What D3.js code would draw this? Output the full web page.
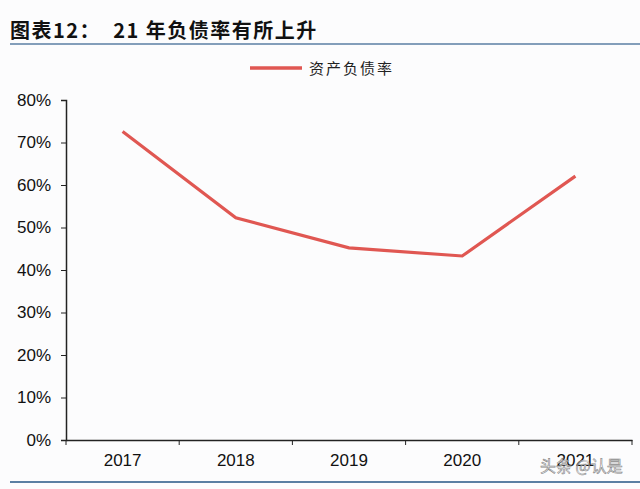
<!DOCTYPE html>
<html><head><meta charset="utf-8">
<script src="https://cdn.jsdelivr.net/npm/d3@7"></script>
<style>body{margin:0;background:#fcfcfd;}svg{display:block;}</style>
</head><body>
<script>
const years = ["2017","2018","2019","2020","2021"];
const debtRatio = [72.6, 52.3, 45.2, 43.3, 62.1];
const yTicks = [0,10,20,30,40,50,60,70,80];
const seriesName = "资产负债率";
const title = "图表12：  21 年负债率有所上升";

const W=640,H=489;
const svg=d3.select("body").append("svg").attr("width",W).attr("height",H);
svg.append("rect").attr("width",W).attr("height",H).attr("fill","#fcfcfd");

svg.append("text").attr("x",10).attr("y",38).text(title)
  .attr("font-family","'Noto Sans CJK SC', sans-serif").attr("font-weight","bold")
  .attr("font-size",20).attr("letter-spacing",1.5).attr("fill","#111").style("white-space","pre");
svg.append("line").attr("x1",10).attr("x2",640).attr("y1",44).attr("y2",44).attr("stroke","#5b7fa3").attr("stroke-width",1.5);
svg.append("line").attr("x1",10).attr("x2",640).attr("y1",482).attr("y2",482).attr("stroke","#5b7fa3").attr("stroke-width",2);

const x=d3.scaleBand().domain(years).range([66,632]);
const y=d3.scaleLinear().domain([0,80]).range([440,100]);

const ya=svg.append("g").attr("transform","translate(66,0)")
  .call(d3.axisLeft(y).tickValues(yTicks).tickFormat(d=>d+"%").tickSize(5).tickPadding(10));
ya.select(".domain").attr("stroke","#222").attr("stroke-width",1.5);
ya.selectAll(".tick line").attr("stroke","#222");
ya.selectAll("text").attr("font-family","'Liberation Sans', Arial, sans-serif").attr("font-size",17).attr("fill","#111");

const xa=svg.append("g").attr("transform","translate(0,440)")
  .call(d3.axisBottom(x).tickSize(0).tickPadding(14));
xa.select(".domain").attr("stroke","#222").attr("stroke-width",1.5);
xa.selectAll("text").attr("font-family","'Liberation Sans', Arial, sans-serif").attr("font-size",17).attr("fill","#111");
const bounds = years.map(d=>x(d)).concat([x.range()[1]]);
svg.append("g").selectAll("line").data(bounds).join("line")
  .attr("x1",d=>d).attr("x2",d=>d).attr("y1",440).attr("y2",445).attr("stroke","#222");

const line=d3.line().x((d,i)=>x(years[i])+x.bandwidth()/2).y(d=>y(d));
svg.append("path").datum(debtRatio).attr("d",line).attr("fill","none")
  .attr("stroke","#e05752").attr("stroke-width",3.2).attr("stroke-linejoin","miter");

svg.append("line").attr("x1",250).attr("x2",302).attr("y1",68).attr("y2",68).attr("stroke","#e05752").attr("stroke-width",3.5);
svg.append("text").attr("x",309).attr("y",74).text(seriesName)
  .attr("font-family","'Noto Sans CJK SC', sans-serif").attr("font-size",15).attr("letter-spacing",2).attr("fill","#222");

svg.append("text").attr("x",540).attr("y",472).text("头条 @认是")
  .attr("font-family","'Noto Sans CJK SC', sans-serif").attr("font-size",16).attr("fill","#fff")
  .attr("stroke","#666").attr("stroke-width",0.6).attr("opacity",0.8);
</script>
</body></html>
